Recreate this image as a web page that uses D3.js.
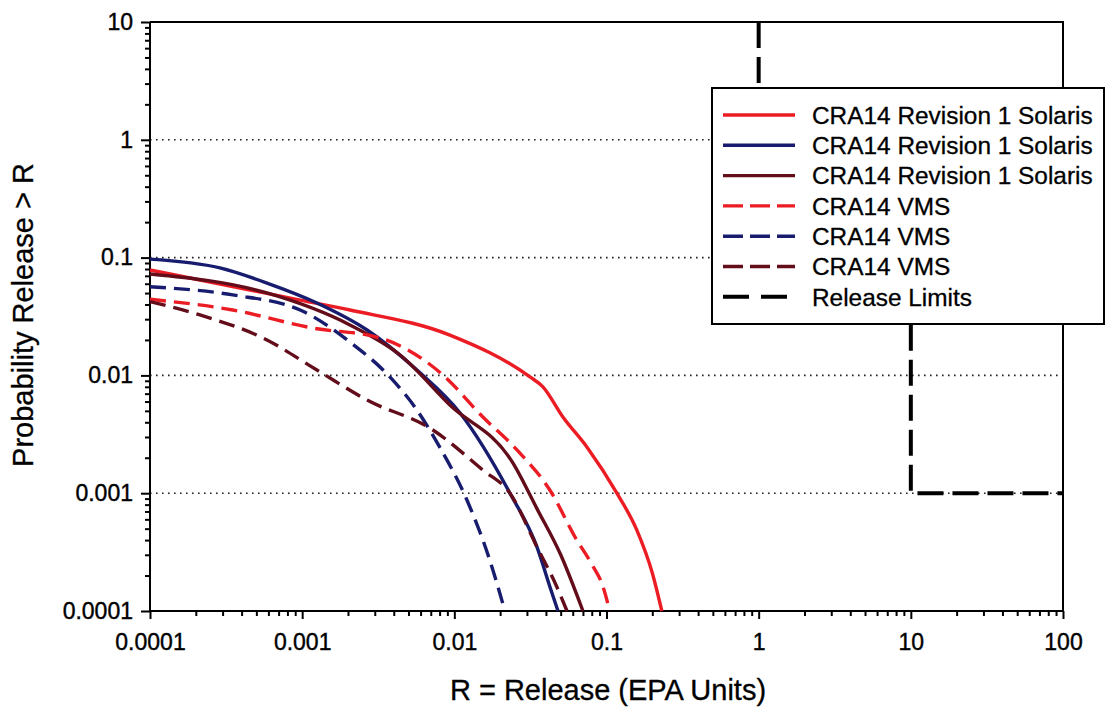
<!DOCTYPE html>
<html>
<head>
<meta charset="utf-8">
<script src="https://cdn.jsdelivr.net/npm/d3@7"></script>
<style>
  body { margin: 0; background: #fff; }
  text { font-family: "Liberation Sans", Arial, sans-serif; }
</style>
</head>
<body>
<div id="chart"></div>
<script>
// data: [release R, probability release > R]
var solaris1 = [[0.0001, 0.0785], [0.00097, 0.0436], [0.00206, 0.0359], [0.00935, 0.022], [0.0314, 0.0097],
                [0.0382, 0.008], [0.0517, 0.00444], [0.0743, 0.00247], [0.117, 0.001], [0.158, 0.000488],
                [0.2, 0.00021], [0.231, 0.0001]];
var solaris2 = [[0.0001, 0.097], [0.000288, 0.0817], [0.000587, 0.0608], [0.00125, 0.0412], [0.00267, 0.0243],
                [0.00568, 0.0111], [0.0109, 0.0048], [0.0232, 0.001], [0.0349, 0.00035], [0.0425, 0.00016],
                [0.048, 0.0001]];
var solaris3 = [[0.0001, 0.0726], [0.000587, 0.0501], [0.00206, 0.0268], [0.0044, 0.0149], [0.00935, 0.0056],
                [0.0243, 0.0018], [0.0349, 0.00074], [0.05, 0.0003], [0.07, 0.0001]];
var vms1 = [[0.0001, 0.0443], [0.00035, 0.0359], [0.00118, 0.0252], [0.00324, 0.0208], [0.0084, 0.0101],
            [0.0154, 0.00443], [0.0258, 0.00233], [0.0425, 0.00106], [0.0638, 0.0004], [0.08, 0.00025],
            [0.095, 0.00016], [0.105, 0.0001]];
var vms2 = [[0.0001, 0.0566], [0.00035, 0.0482], [0.00097, 0.0359], [0.00206, 0.0192], [0.00377, 0.0097],
            [0.00568, 0.00508], [0.008, 0.00247], [0.0121, 0.000875], [0.0171, 0.00027], [0.0215, 0.0001]];
var vms3 = [[0.0001, 0.0423], [0.000213, 0.0326], [0.000587, 0.02], [0.00125, 0.0111], [0.00267, 0.00618],
            [0.00723, 0.00344], [0.0154, 0.00157], [0.0232, 0.001], [0.0349, 0.00035], [0.0472, 0.00016],
            [0.055, 0.0001]];
var releaseLimits = [[1, 10], [1, 0.1], [10, 0.1], [10, 0.001], [100, 0.001]];

var seriesNames = ["CRA14 Revision 1 Solaris", "CRA14 Revision 1 Solaris", "CRA14 Revision 1 Solaris",
                   "CRA14 VMS", "CRA14 VMS", "CRA14 VMS", "Release Limits"];
var xTickLabels = ["0.0001", "0.001", "0.01", "0.1", "1", "10", "100"];
var yTickLabels = ["0.0001", "0.001", "0.01", "0.1", "1", "10"];
var gridValues = [1, 0.1, 0.01, 0.001];

// set the dimensions and margins of the graph
var margin = {top: 22, right: 43, bottom: 100, left: 150},
    width = 1106 - margin.left - margin.right,
    height = 711 - margin.top - margin.bottom;

var svg = d3.select("#chart")
  .append("svg")
    .attr("width", 1106)
    .attr("height", 711)
  .append("g")
    .attr("transform", "translate(" + margin.left + "," + margin.top + ")");

var x = d3.scaleLog().domain([0.0001, 100]).range([0, width]);
var y = d3.scaleLog().domain([0.0001, 10]).range([height, 0]);

var red = "#ec1c24", blue = "#181c6e", maroon = "#630d1b";
var styles = [
  {data: solaris1, color: red, dash: null},
  {data: solaris2, color: blue, dash: null},
  {data: solaris3, color: maroon, dash: null},
  {data: vms1, color: red, dash: "16,8"},
  {data: vms2, color: blue, dash: "16,8"},
  {data: vms3, color: maroon, dash: "16,8"}
];

// minor + major tick values for the log axes
function logTicks(labels) {
  var vals = [];
  labels.forEach(function(l, i) {
    var v = +l;
    vals.push(v);
    if (i < labels.length - 1) for (var k = 2; k <= 9; k++) vals.push(+(v * k).toPrecision(3));
  });
  return vals;
}
var majorX = xTickLabels.map(Number), majorY = yTickLabels.map(Number);

// dotted gridlines
svg.append("g")
  .selectAll("line")
  .data(gridValues)
  .enter()
  .append("line")
    .attr("x1", 0)
    .attr("x2", width)
    .attr("y1", function(d) { return y(d); })
    .attr("y2", function(d) { return y(d); })
    .attr("stroke", "#222")
    .attr("stroke-width", 1.6)
    .attr("stroke-dasharray", "1.6,4.4");

// frame top / right
svg.append("path")
  .attr("d", "M0,0H" + width + "V" + height)
  .attr("fill", "none")
  .attr("stroke", "#000")
  .attr("stroke-width", 2);

// x axis
var xAxis = svg.append("g")
  .attr("transform", "translate(0," + height + ")")
  .call(d3.axisBottom(x)
    .tickValues(logTicks(xTickLabels))
    .tickSize(8)
    .tickPadding(15)
    .tickFormat(function(d) { var i = majorX.indexOf(d); return i >= 0 ? xTickLabels[i] : ""; }));

// y axis
var yAxis = svg.append("g")
  .call(d3.axisLeft(y)
    .tickValues(logTicks(yTickLabels))
    .tickSize(8)
    .tickPadding(9)
    .tickFormat(function(d) { var i = majorY.indexOf(d); return i >= 0 ? yTickLabels[i] : ""; }));

[xAxis, yAxis].forEach(function(a) {
  a.select(".domain").attr("stroke-width", 2).attr("d", a === xAxis ? "M0,0H" + width : "M0," + height + "V0");
  a.selectAll(".tick line").attr("stroke-width", 2);
  a.selectAll("text")
    .style("font-size", "23px")
    .attr("fill", "#000")
    .attr("stroke", "#000")
    .attr("stroke-width", 0.4);
});
xAxis.selectAll(".tick line").attr("y2", function(d) { return majorX.indexOf(d) >= 0 ? 8 : 5; });
yAxis.selectAll(".tick line").attr("x2", function(d) { return majorY.indexOf(d) >= 0 ? -9 : -5; });

var line = d3.line()
  .x(function(d) { return x(d[0]); })
  .y(function(d) { return y(d[1]); })
  .curve(d3.curveMonotoneX);

// release limits
svg.append("path")
  .attr("d", d3.line().x(function(d) { return x(d[0]); }).y(function(d) { return y(d[1]); })(releaseLimits))
  .attr("fill", "none")
  .attr("stroke", "#000")
  .attr("stroke-width", 4)
  .attr("stroke-dasharray", "26,9");

// the curves
svg.append("g")
  .selectAll("path")
  .data(styles)
  .enter()
  .append("path")
    .attr("d", function(d) { return line(d.data); })
    .attr("fill", "none")
    .attr("stroke", function(d) { return d.color; })
    .attr("stroke-width", 3.4)
    .attr("stroke-dasharray", function(d) { return d.dash; });

// legend
var legend = svg.append("g")
  .attr("transform", "translate(" + (712 - margin.left) + "," + (88 - margin.top) + ")");

legend.append("rect")
  .attr("width", 392)
  .attr("height", 236)
  .attr("fill", "#fff")
  .attr("stroke", "#000")
  .attr("stroke-width", 2);

var legendStyles = styles.concat([{color: "#000", dash: "26,12"}]);
var rows = legend.selectAll(".row")
  .data(seriesNames)
  .enter()
  .append("g")
    .attr("class", "row")
    .attr("transform", function(d, i) { return "translate(0," + (27 + i * 30.3) + ")"; });

rows.append("line")
  .attr("x1", 11)
  .attr("x2", function(d, i) { return i === 6 ? 86 : 83; })
  .attr("stroke", function(d, i) { return legendStyles[i].color; })
  .attr("stroke-width", function(d, i) { return i === 6 ? 4 : 3.4; })
  .attr("stroke-dasharray", function(d, i) { return i === 6 ? "26,12" : (legendStyles[i].dash ? "20,7" : null); });

rows.append("text")
  .attr("x", 100)
  .attr("dy", "0.36em")
  .style("font-size", "24.4px")
  .attr("stroke", "#000")
  .attr("stroke-width", 0.3)
  .text(function(d) { return d; });

// axis titles
svg.append("text")
  .attr("x", 608 - margin.left)
  .attr("y", 700 - margin.top)
  .attr("text-anchor", "middle")
  .style("font-size", "29px")
  .attr("stroke", "#000")
  .attr("stroke-width", 0.3)
  .text("R = Release (EPA Units)");

svg.append("text")
  .attr("transform", "translate(" + (33 - margin.left) + "," + (315 - margin.top) + ") rotate(-90)")
  .attr("text-anchor", "middle")
  .style("font-size", "29px")
  .attr("stroke", "#000")
  .attr("stroke-width", 0.3)
  .text("Probability Release > R");
</script>
</body>
</html>
